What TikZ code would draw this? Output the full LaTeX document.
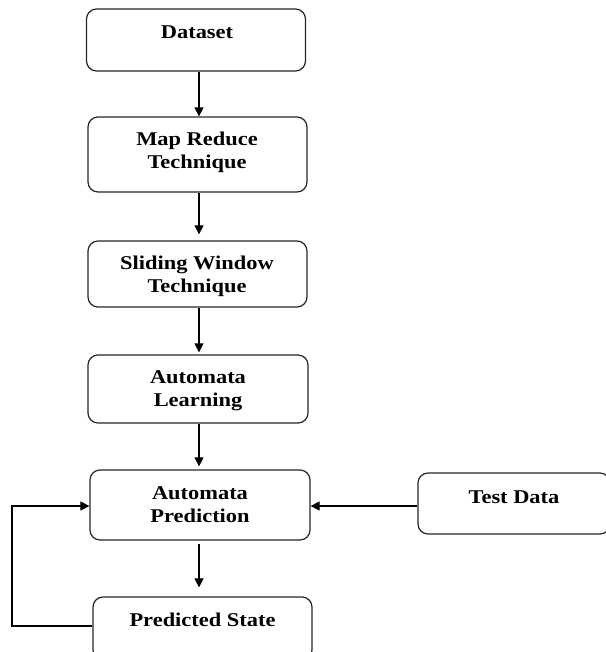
\documentclass[tikz,border=0pt]{standalone}
\usepackage{fontspec}
\setmainfont{Liberation Serif}[FakeStretch=1.15]
\usetikzlibrary{arrows.meta}
\begin{document}
\begin{tikzpicture}[x=1pt,y=-1pt,
  box/.style={draw=black!85, line width=1.2pt, rounded corners=10pt, minimum width=#1, inner sep=0pt},
  box/.default=219pt,
  txt/.style={font=\fontsize{19.5}{23}\selectfont\bfseries, align=center, anchor=base, inner sep=0pt},
  arr/.style={line width=1.1pt, -{Triangle[length=9pt,width=9pt]}}]
\useasboundingbox (0,0) rectangle (605,652);
% boxes
\node[box, minimum height=62pt] (ds) at (196,40) {};
\node[box, minimum height=75pt] (mr) at (197.5,154.5) {};
\node[box, minimum height=66pt] (sw) at (197.5,274) {};
\node[box=220pt, minimum height=68pt] (al) at (198,389) {};
\node[box=220pt, minimum height=70pt] (ap) at (200,505) {};
\node[box, minimum height=63pt] (ps) at (202.5,628.5) {};
\node[box=192pt, minimum height=61pt] (td) at (514,503.5) {};
% texts (base anchor = last line)
\node[txt] (tds) at (197,39) {Dataset};
\node[txt] (tmr) at (197,169) {Map Reduce\\Technique};
\node[txt] (tsw) at (197,292) {Sliding Window\\Technique};
\node[txt] (tal) at (198,406) {Automata\\Learning};
\node[txt] (tap) at (200,522) {Automata\\Prediction};
\node[txt] (tps) at (202.5,626) {Predicted State};
\node[txt] (ttd) at (514,503) {Test Data};
% connectors
\coordinate (ax) at (199,0);
\draw[arr] (ds.south -| ax) -- (mr.north -| ax);
\draw[arr, shorten >=6pt] (mr.south -| ax) -- (sw.north -| ax);
\draw[arr, shorten >=2pt] (sw.south -| ax) -- (al.north -| ax);
\draw[arr, shorten >=3pt] (al.south -| ax) -- (ap.north -| ax);
\draw[arr, shorten <=3pt, shorten >=9pt] (ap.south -| ax) -- (ps.north -| ax);
\coordinate (ay) at (0,506);
\draw[arr] (td.west |- ay) -- (ap.east |- ay);
\coordinate (fb) at (12,626);
\draw[arr] (ps.west |- fb) -- (fb) -- (fb |- ay) -- (ap.west |- ay);
\end{tikzpicture}
\end{document}
